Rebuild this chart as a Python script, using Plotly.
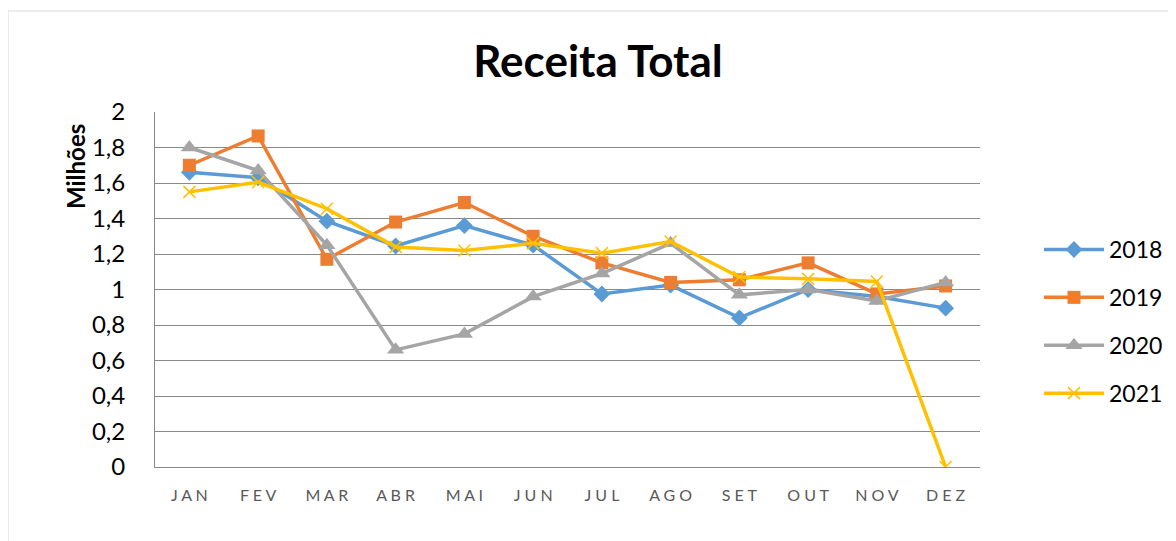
import plotly.graph_objects as go

months = ["JAN", "FEV", "MAR", "ABR", "MAI", "JUN", "JUL", "AGO", "SET", "OUT", "NOV", "DEZ"]
s2018 = [1.66, 1.63, 1.385, 1.245, 1.36, 1.25, 0.975, 1.025, 0.84, 1.0, 0.96, 0.895]
s2019 = [1.70, 1.865, 1.17, 1.38, 1.49, 1.30, 1.15, 1.04, 1.055, 1.15, 0.975, 1.02]
s2020 = [1.80, 1.67, 1.25, 0.66, 0.75, 0.96, 1.09, 1.26, 0.97, 1.0, 0.935, 1.04]
s2021 = [1.55, 1.605, 1.455, 1.24, 1.22, 1.26, 1.205, 1.27, 1.07, 1.06, 1.045, 0.0]
ytick_vals = [0, 0.2, 0.4, 0.6, 0.8, 1.0, 1.2, 1.4, 1.6, 1.8, 2.0]
ytick_text = ["0", "0,2", "0,4", "0,6", "0,8", "1", "1,2", "1,4", "1,6", "1,8", "2"]

# page offset (browser default body margin)
OX, OY = 8, 8
W, H = 1176, 541
PL, PR, PT, PB = 155, 980, 112, 467  # target plot area in window pixels
L, T = PL - OX, PT - OY
R = (W + OX) - PR
B = (H + OY) - PB
FONT = "Lato, Open Sans, sans-serif"

pw = PR - PL
ph = PB - PT


def px(xw):
    return (xw - PL) / pw


def py(yw):
    return (PB - yw) / ph


series = [
    ("2018", s2018, "#5B9BD5", dict(symbol="diamond", size=13)),
    ("2019", s2019, "#ED7D31", dict(symbol="square", size=13)),
    ("2020", s2020, "#A5A5A5", dict(symbol="triangle-up", size=15)),
    ("2021", s2021, "#FFC000", dict(symbol="x-thin", size=12, line=dict(width=1.5, color="#FFC000"))),
]

fig = go.Figure()
for name, vals, color, mk in series:
    m = dict(color=color, **mk)
    fig.add_trace(go.Scatter(
        x=months, y=vals, name=name, mode="lines+markers",
        line=dict(color=color, width=3.5), marker=m,
        legendgroup=name,
    ))

fig.update_layout(
    width=W, height=H,
    margin=dict(l=L, r=R, t=T, b=B, autoexpand=False),
    paper_bgcolor="white", plot_bgcolor="white",
    font=dict(family=FONT, color="#000000"),
    title=dict(text="<b>Receita Total</b>", x=(598 - OX) / W, xanchor="center",
               y=1 - (62 - OY) / H, yanchor="middle",
               font=dict(size=44, family=FONT, color="#000000")),
    showlegend=True,
    legend=dict(x=px(1039), xanchor="left", y=py(228), yanchor="top",
                font=dict(size=23, family=FONT, color="#000000"),
                tracegroupgap=15, traceorder="grouped", itemwidth=60,
                bgcolor="rgba(0,0,0,0)"),
    xaxis=dict(
        tickmode="array", tickvals=months,
        ticktext=[" ".join(m) for m in months],
        tickfont=dict(size=16, family=FONT, color="#595959"),
        range=[-0.5, len(months) - 0.5],
        showgrid=False, showline=True, linecolor="#898989", linewidth=1,
        ticks="", ticklabelstandoff=14, zeroline=False,
    ),
    yaxis=dict(
        range=[0, 2], tickmode="array", tickvals=ytick_vals, ticktext=ytick_text,
        tickfont=dict(size=24, family=FONT, color="#000000"),
        showgrid=True, gridcolor="#898989", gridwidth=1,
        showline=True, linecolor="#898989", linewidth=1,
        zeroline=False, ticks="", ticklabelstandoff=24,
    ),
    annotations=[dict(
        text="<b>Milhões</b>", textangle=-90, showarrow=False,
        xref="paper", yref="paper",
        x=px(75), y=py(167), xanchor="center", yanchor="middle",
        font=dict(size=24, family=FONT, color="#000000"),
    )],
    shapes=[dict(
        type="rect", xref="paper", yref="paper",
        x0=px(8), x1=px(1200),
        y0=py(560), y1=py(11),
        line=dict(color="#D9D9D9", width=1), fillcolor="rgba(0,0,0,0)", layer="below",
    )],
)

fig.write_html("out.html")
